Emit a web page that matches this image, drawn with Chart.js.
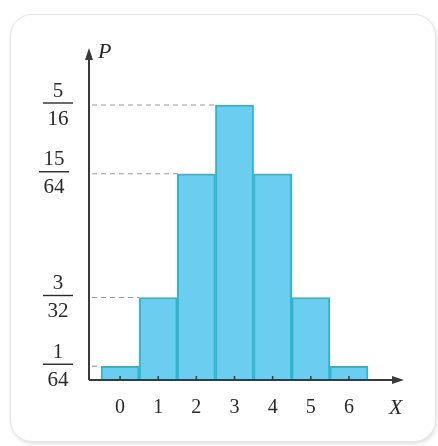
<!DOCTYPE html>
<html>
<head>
<meta charset="utf-8">
<script src="https://cdn.jsdelivr.net/npm/chart.js@4"></script>
<style>
  html, body { margin: 0; padding: 0; background: #fff; }
  #wrap { position: relative; width: 438px; height: 446px; }
  .card {
    position: absolute; left: 10px; top: 14px; width: 424px; height: 426px;
    border: 1px solid #e6e6e6; border-radius: 22px;
    box-shadow: 1px 2px 4px rgba(0,0,0,0.12);
    background: #fff;
  }
  canvas { position: absolute; left: 0; top: 0; }
</style>
</head>
<body>
<div id="wrap">
  <div class="card"></div>
  <canvas id="mychart" width="438" height="446"></canvas>
</div>
<script>
// 데이터
const categories = ["0", "1", "2", "3", "4", "5", "6"];
const probs = [1 / 64, 6 / 64, 15 / 64, 20 / 64, 15 / 64, 6 / 64, 1 / 64];
const tickValues = [1 / 64, 6 / 64, 15 / 64, 20 / 64];
const tickNums = ["1", "3", "15", "5"];
const tickDens = ["64", "32", "64", "16"];

const serif = '"Liberation Serif", "DejaVu Serif", serif';

// 축, 점선, 분수 라벨
const axisPlugin = {
  id: "axisPlugin",
  afterDatasetsDraw(chart) {
    const c = chart.ctx;
    const xs = chart.scales.x;
    const ys = chart.scales.y;
    const x0 = 89;
    const y0 = ys.getPixelForValue(0);

    c.save();
    // 점선
    c.strokeStyle = "#9a9a9a";
    c.lineWidth = 1.2;
    c.setLineDash([5, 4]);
    tickValues.forEach((v) => {
      const y = ys.getPixelForValue(v);
      // 이 높이의 첫 막대 왼쪽 모서리까지
      let idx = probs.findIndex((p) => Math.abs(p - v) < 1e-9);
      const bar = chart.getDatasetMeta(0).data[idx];
      const xe = bar.x - bar.width / 2;
      c.beginPath();
      c.moveTo(x0 + 3, y);
      c.lineTo(xe, y);
      c.stroke();
    });
    c.setLineDash([]);

    // 축
    c.strokeStyle = "#3a3a3a";
    c.fillStyle = "#3a3a3a";
    c.lineWidth = 2;
    c.beginPath();
    c.moveTo(x0, y0);
    c.lineTo(x0, 56);
    c.moveTo(x0, y0);
    c.lineTo(398, y0);
    c.stroke();
    // 화살표
    c.beginPath();
    c.moveTo(x0, 48);
    c.lineTo(x0 - 4, 60);
    c.lineTo(x0 + 4, 60);
    c.closePath();
    c.fill();
    c.beginPath();
    c.moveTo(404, y0);
    c.lineTo(392, y0 - 4);
    c.lineTo(392, y0 + 4);
    c.closePath();
    c.fill();

    // x 눈금
    c.lineWidth = 1.5;
    categories.forEach((_, i) => {
      const x = xs.getPixelForValue(i);
      c.beginPath();
      c.moveTo(x, y0);
      c.lineTo(x, y0 - 4);
      c.stroke();
    });

    // 분수 라벨
    c.fillStyle = "#2a2a2a";
    c.font = "21px " + serif;
    c.textAlign = "center";
    c.textBaseline = "middle";
    tickValues.forEach((v, i) => {
      const y = ys.getPixelForValue(v) - 2;
      const cx = tickNums[i].length > 1 ? 54 : 58;
      c.fillText(tickNums[i], cx, y - 12);
      c.fillText(tickDens[i], cx, y + 16);
      c.lineWidth = 1.4;
      c.strokeStyle = "#2a2a2a";
      c.beginPath();
      c.moveTo(cx - 15, y);
      c.lineTo(cx + 15, y);
      c.stroke();
    });

    // 축 이름
    c.font = "italic 22px " + serif;
    c.textAlign = "left";
    c.fillText("P", 98, 52);
    c.fillText("X", 389, 408);
    c.restore();
  },
};

const ctx = document.getElementById("mychart");

const data = {
  labels: categories,
  datasets: [
    {
      data: probs,
      backgroundColor: "#6bcdf0",
      borderColor: "#2fb6cc",
      borderWidth: 2,
      barPercentage: 1,
      categoryPercentage: 1,
    },
  ],
};

const config = {
  type: "bar",
  data: data,
  options: {
    responsive: false,
    animation: false,
    layout: {
      padding: { left: 101, right: 70, top: 50, bottom: 10 },
    },
    plugins: {
      legend: { display: false },
      tooltip: { enabled: false },
    },
    scales: {
      x: {
        grid: { display: false, drawTicks: false },
        border: { display: false },
        ticks: {
          padding: 16,
          color: "#2a2a2a",
          font: { family: serif, size: 20 },
        },
      },
      y: {
        display: false,
        min: 0,
        max: 24 / 64,
      },
    },
  },
  plugins: [axisPlugin],
};

new Chart(ctx, config);
</script>
</body>
</html>
